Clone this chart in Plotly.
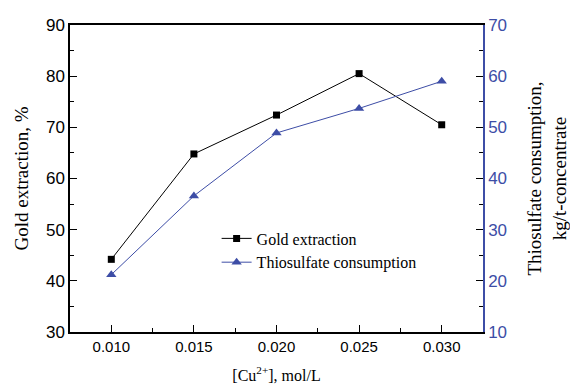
import plotly.graph_objects as go

cu = [0.010, 0.015, 0.020, 0.025, 0.030]
gold = [44.2, 64.8, 72.4, 80.5, 70.5]
thio = [21.2, 36.6, 48.9, 53.7, 59.0]
x_ticks = [0.010, 0.015, 0.020, 0.025, 0.030]
x_ticklabels = ["0.010", "0.015", "0.020", "0.025", "0.030"]

BLUE = "#3D4DA6"
SERIF = "Times New Roman"
SANS = "Arial"

fig = go.Figure()
fig.add_trace(go.Scatter(x=cu, y=gold, mode="lines+markers", name="Gold extraction",
                         line=dict(color="black", width=1),
                         marker=dict(symbol="square", size=7, color="black")))
fig.add_trace(go.Scatter(x=cu, y=thio, mode="lines+markers", name="Thiosulfate consumption",
                         yaxis="y2",
                         line=dict(color=BLUE, width=1),
                         marker=dict(symbol="triangle-up", size=9, color=BLUE)))

fig.update_layout(
    width=570, height=391,
    margin=dict(l=70, r=87, t=25, b=59),
    paper_bgcolor="white", plot_bgcolor="white",
    showlegend=True,
    legend=dict(x=0.355, y=0.36, xanchor="left", yanchor="top",
                bgcolor="rgba(0,0,0,0)", itemwidth=30,
                font=dict(family=SERIF, size=16, color="black"),
                tracegroupgap=0),
    xaxis=dict(range=[0.0075, 0.0325], tickvals=x_ticks, ticktext=x_ticklabels,
               showline=True, linecolor="black", linewidth=1.5, mirror=True, automargin=False,
               ticks="inside", ticklen=7, tickcolor="black", showgrid=False, zeroline=False,
               minor=dict(dtick=0.0025, tick0=0.0075, ticks="inside", ticklen=4, tickcolor="black"),
               tickfont=dict(family=SANS, size=15, color="black"),
               title=dict(text="[Cu<sup>2+</sup>], mol/L", font=dict(family=SERIF, size=16, color="black"),
                          standoff=16)),
    yaxis=dict(range=[30, 90], dtick=10, showline=True, linecolor="black", linewidth=1.5,
               automargin=False,
               ticks="inside", ticklen=7, tickcolor="black", showgrid=False, zeroline=False,
               minor=dict(dtick=5, ticks="inside", ticklen=4, tickcolor="black"),
               tickfont=dict(family=SANS, size=17, color="black"),
               title=dict(text="Gold extraction, %", font=dict(family=SERIF, size=19, color="black"),
                          standoff=12)),
    yaxis2=dict(range=[10, 70], dtick=10, overlaying="y", side="right",
                showline=True, linecolor=BLUE, linewidth=1.5, automargin=False,
                ticks="inside", ticklen=7, tickcolor="black", showgrid=False, zeroline=False,
                minor=dict(dtick=5, ticks="inside", ticklen=4, tickcolor="black"),
                tickfont=dict(family=SANS, size=17, color=BLUE),
                title=dict(text="Thiosulfate consumption,<br>kg/t-concentrate",
                           font=dict(family=SERIF, size=19, color="black"), standoff=23)),
)

fig.write_html("out.html")
